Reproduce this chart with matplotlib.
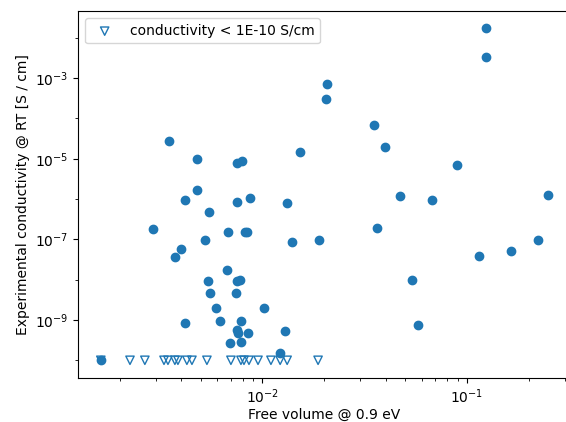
import matplotlib
matplotlib.use("Agg")
import matplotlib.pyplot as plt
from matplotlib.ticker import NullFormatter

# measured points (free volume @ 0.9 eV, conductivity @ RT in S/cm)
free_vol = [0.124, 0.124, 0.0206, 0.0204, 0.0351, 0.0399, 0.0897, 0.0152,
            3.48e-3, 4.80e-3, 7.53e-3, 7.94e-3, 0.0472, 0.0675, 0.2497,
            4.80e-3, 4.19e-3, 8.69e-3, 7.48e-3, 0.01318, 5.47e-3, 2.90e-3,
            6.76e-3, 8.18e-3, 8.43e-3, 5.22e-3, 0.0140, 0.01896, 3.99e-3,
            3.75e-3, 0.0364, 0.2233, 0.1148, 0.1641, 6.71e-3, 5.41e-3,
            7.48e-3, 7.79e-3, 0.0538, 5.52e-3, 7.39e-3, 5.94e-3, 0.01014,
            4.16e-3, 6.22e-3, 7.88e-3, 7.48e-3, 7.59e-3, 8.49e-3, 0.01293,
            0.0576, 6.94e-3, 7.88e-3, 0.01214, 1.62e-3]
conductivity = [1.76e-2, 3.3e-3, 7.2e-4, 3.05e-4, 7.0e-5, 2.0e-5, 7.0e-6, 1.5e-5,
                2.8e-5, 9.9e-6, 7.7e-6, 8.8e-6, 1.19e-6, 9.7e-7, 1.26e-6,
                1.68e-6, 9.7e-7, 1.08e-6, 8.3e-7, 8.1e-7, 4.9e-7, 1.85e-7,
                1.55e-7, 1.55e-7, 1.55e-7, 9.7e-8, 8.5e-8, 9.7e-8, 5.9e-8,
                3.65e-8, 1.95e-7, 9.7e-8, 3.9e-8, 5.2e-8, 1.74e-8, 9.4e-9,
                9.3e-9, 9.6e-9, 9.6e-9, 4.6e-9, 4.75e-9, 1.95e-9, 1.95e-9,
                8.3e-10, 9.6e-10, 9.4e-10, 5.65e-10, 4.7e-10, 4.7e-10, 5.25e-10,
                7.4e-10, 2.64e-10, 2.8e-10, 1.55e-10, 1e-10]

# materials below the detection limit, drawn at 1E-10
low_free_vol = [1.62e-3, 2.25e-3, 2.66e-3, 3.30e-3, 3.45e-3, 3.73e-3, 3.86e-3,
                4.27e-3, 4.52e-3, 5.35e-3, 7.01e-3, 7.85e-3, 8.12e-3, 8.59e-3,
                9.51e-3, 0.0110, 0.0122, 0.0132, 0.0187]
low_cond = [1e-10] * len(low_free_vol)

y_major = [1e-9, 1e-7, 1e-5, 1e-3]
y_minor = [1e-10, 1e-8, 1e-6, 1e-4, 1e-2]

fig = plt.figure(figsize=(5.66, 4.22), dpi=100)
ax = fig.add_axes([0.1383, 0.105, 0.8693, 0.8682])

ax.scatter(free_vol, conductivity, color="C0")
ax.scatter(low_free_vol, low_cond, marker="v", facecolors="none",
           edgecolors="C0", label="conductivity < 1E-10 S/cm")

ax.set_xscale("log")
ax.set_yscale("log")
ax.set_xlim(1.257e-3, 0.32)
ax.set_ylim(3.70e-11, 4.57e-2)
ax.set_yticks(y_major)
ax.set_yticks(y_minor, minor=True)
ax.yaxis.set_minor_formatter(NullFormatter())

ax.set_xlabel("Free volume @ 0.9 eV", labelpad=1)
ax.set_ylabel("Experimental conductivity @ RT [S / cm]")
ax.legend(loc="upper left")

fig.savefig("out.png", dpi=100)
